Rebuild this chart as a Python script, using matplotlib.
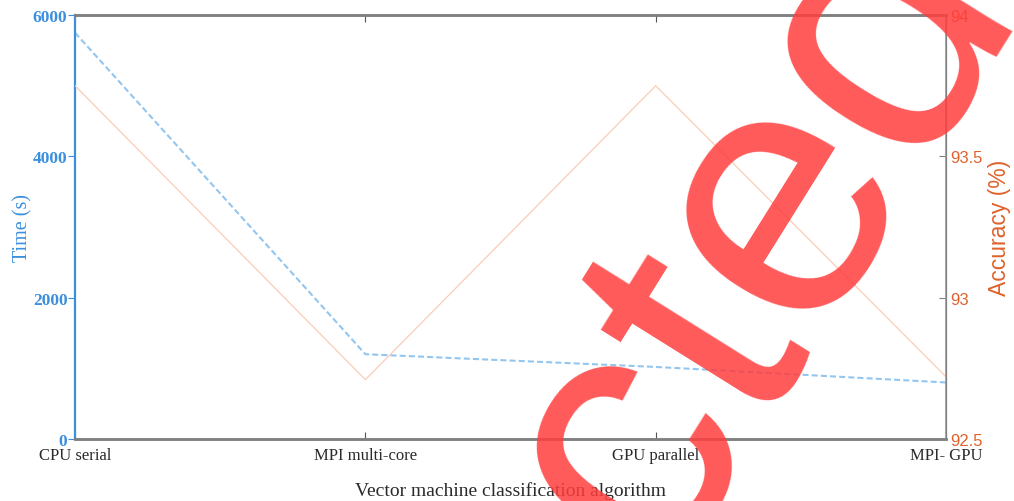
import matplotlib
matplotlib.use("Agg")
import matplotlib.pyplot as plt

methods = ["CPU serial", "MPI multi-core", "GPU parallel", "MPI- GPU"]
time_s = [5750, 1200, 1020, 800]
accuracy = [93.75, 92.71, 93.75, 92.72]

blue = "#3b8fdc"
orange = "#e0622b"
gray = "#808080"
serif = ["Liberation Serif", "DejaVu Serif"]
sans = ["Liberation Sans", "DejaVu Sans"]

fig = plt.figure(figsize=(10.14, 5.02), dpi=100)
ax = fig.add_axes([0.074, 0.1235, 0.859, 0.8445])
x = list(range(len(methods)))

ax.plot(x, time_s, color="#93c6ef", lw=1.5, ls=(0, (2.9, 1.5)))
ax.set_xlim(0, 3)
ax.set_ylim(0, 6000)
ax.set_yticks([0, 2000, 4000, 6000])
ax.set_xticks(x)
ax.set_xticklabels(methods, family=serif, fontsize=12, color="#2a2a2a")
ax.tick_params(axis="x", direction="in", length=5, color="#555555", top=True, pad=6)
ax.tick_params(axis="y", direction="out", length=5, color=blue, labelcolor=blue, pad=0.5)
for lab in ax.get_yticklabels():
    lab.set_family(serif)
    lab.set_fontweight("bold")
    lab.set_fontsize(12.5)
ax.set_ylabel("Time (s)", family=serif, fontsize=14.5, color=blue, labelpad=0)
ax.set_xlabel("Vector machine classification algorithm", family=serif,
              fontsize=14, color="#2a2a2a", labelpad=13)
ax.spines["left"].set_color(blue)
ax.spines["left"].set_linewidth(1.6)

ax2 = ax.twinx()
ax2.plot(x, accuracy, color="#f9cdb8", lw=0.9)
ax2.set_ylim(92.5, 94)
ax2.set_yticks([92.5, 93, 93.5, 94])
ax2.set_yticklabels(["92.5", "93", "93.5", "94"], family=sans, fontsize=12)
ax2.tick_params(axis="y", direction="in", length=5, color=gray, labelcolor=orange, pad=3)
ax2.set_ylabel("Accuracy (%)", family=sans, fontsize=16.5, color=orange, labelpad=4)
ax2.spines["right"].set_color("#999999")
ax2.spines["right"].set_linewidth(1.2)
ax2.spines["left"].set_visible(False)
for a in (ax, ax2):
    for s in ["top", "bottom"]:
        a.spines[s].set_color(gray)
        a.spines[s].set_linewidth(1.8)

# retraction stamp
fig.text(0.5897, -0.287, "Retracted", family=sans, fontsize=259, color="#ff3d3d",
         alpha=0.85, rotation=58, rotation_mode="anchor", ha="center",
         va="baseline", zorder=10)

fig.savefig("out.png", dpi=100)
